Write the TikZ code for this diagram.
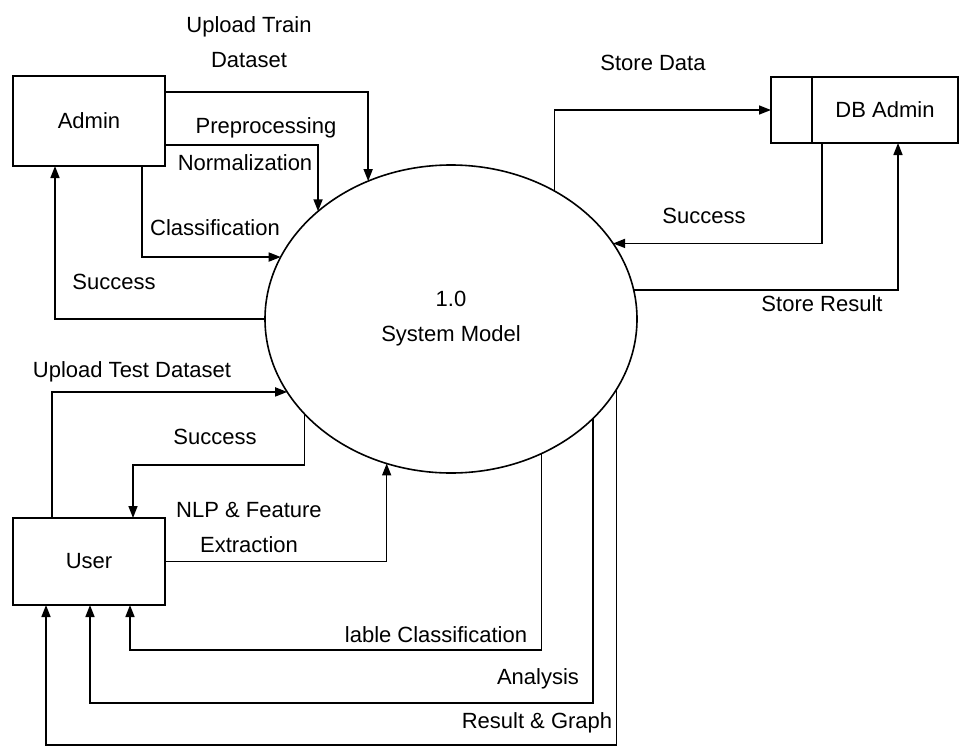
\documentclass[tikz,border=0pt]{standalone}
\usepackage{fontspec}
\setmainfont{Liberation Sans}
\usetikzlibrary{arrows.meta,shapes.geometric,positioning}
\tikzset{
  flow/.style={line width=1.6pt, -{Triangle[length=12pt,width=9pt]}},
  entity/.style={draw, line width=1.6pt, rectangle, inner sep=0pt, outer sep=0pt},
  process/.style={draw, ellipse, line width=1.6pt, inner sep=0pt, outer sep=0pt, align=center},
  lbl/.style={inner sep=0pt, align=center}
}
\begin{document}
\begin{tikzpicture}[x=1pt,y=-1pt,font=\fontsize{22}{35}\selectfont]
\useasboundingbox (0,0) rectangle (962,747);

% External entities
\node[entity, minimum width=152pt, minimum height=90pt] (admin) at (89,121) {Admin};
\node[entity, minimum width=41pt, minimum height=66pt] (dbtag) at (791.5,110) {};
\node[entity, minimum width=146pt, minimum height=66pt, right=0pt of dbtag] (dbadmin) {DB Admin};
\node[entity, minimum width=152pt, minimum height=87pt] (user) at (89,561.5) {User};

% Process
\node[process, minimum width=372pt, minimum height=308pt] (sys) at (451,319) {1.0\\System Model};

% Admin flows
\draw[flow] (admin.east |- 0,92) -| (sys.121);
\draw[flow] (admin.east |- 0,145) -| (sys.141);
\draw[flow] (admin.south -| 142,0) |- (sys.160);
\draw[flow] (sys.180) -| (admin.south -| 55,0);

% DB Admin flows
\draw[flow] (sys.51) |- (dbtag.west);
\draw[flow] (dbadmin.south -| 822,0) |- (sys.25);
\draw[flow] (sys.9) -| (dbadmin.south -| 898,0);

% User flows
\draw[flow] (user.north -| 52,0) |- (sys.204);
\draw[flow] (sys.213) -- (sys.213 |- 0,465) -| (user.north -| 133,0);
\draw[flow] (user.east) -| (sys.246);
\draw[flow] (sys.304) -- (sys.304 |- 0,650) -| (user.south -| 130,0);
\draw[flow] (sys.325) -- (sys.325 |- 0,703) -| (user.south -| 90,0);
\draw[flow] (sys.337) -- (sys.337 |- 0,745) -| (user.south -| 46,0);

% Labels
\node[lbl] (lblTrain) at (249,42) {Upload Train\\Dataset};
\node[lbl] (lblPre) at (266,128) {Preprocessing};
\node[lbl] (lblNorm) at (245,163) {Normalization};
\node[lbl] (lblClass) at (215,228) {Classification};
\node[lbl] (lblSuccA) at (114,282) {Success};
\node[lbl] (lblStore) at (653,63) {Store Data};
\node[lbl] (lblSuccD) at (704,216) {Success};
\node[lbl] (lblResult) at (822,304) {Store Result};
\node[lbl] (lblTest) at (132,372) {Upload Test Dataset};
\node[lbl] (lblSuccU) at (215,437) {Success};
\node[lbl] (lblNlp) at (249,527) {NLP \& Feature\\Extraction};
\node[lbl] (lblLable) at (436,635) {lable Classification};
\node[lbl] (lblAnal) at (538,679) {Analysis};
\node[lbl] (lblGraph) at (537,723) {Result \& Graph};
\end{tikzpicture}
\end{document}
